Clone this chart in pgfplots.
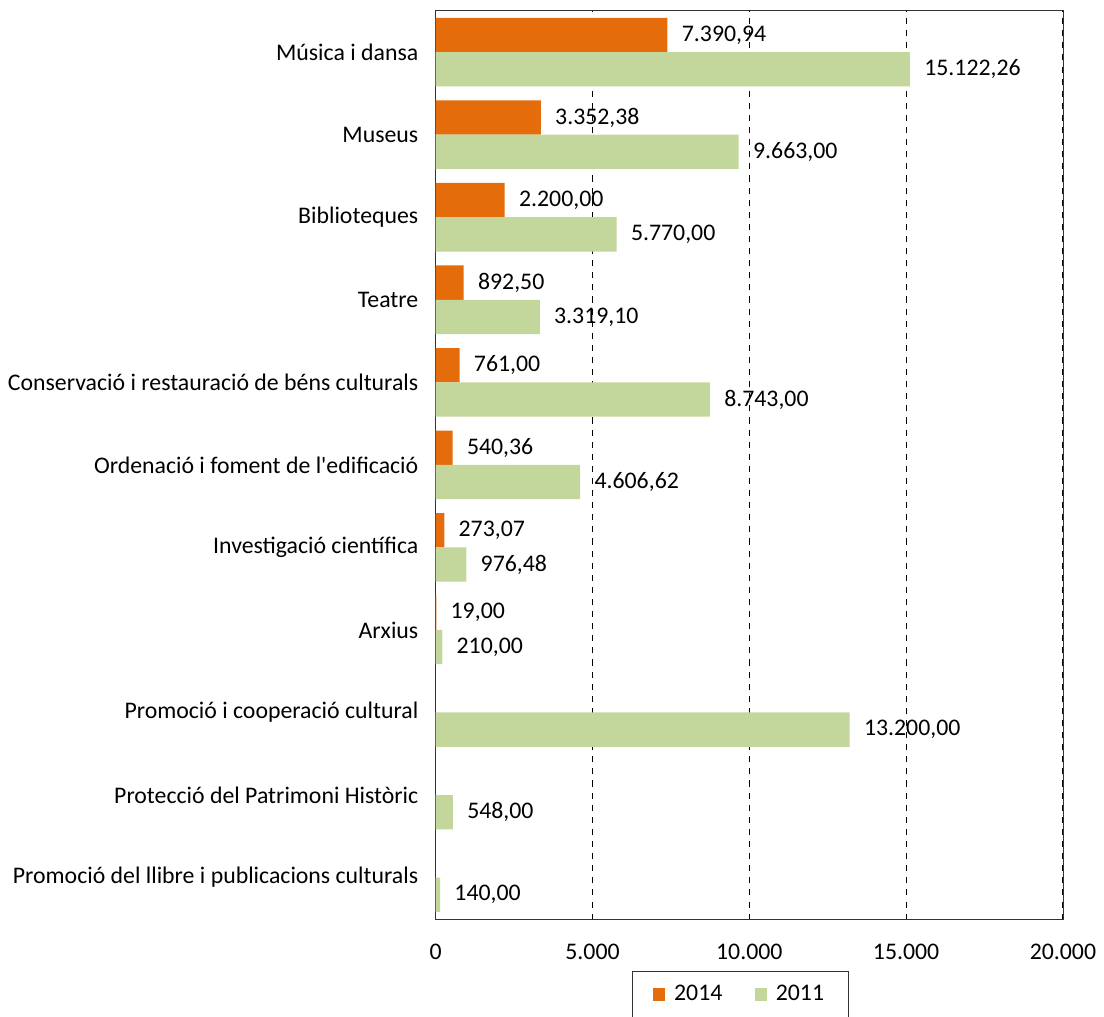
\documentclass[border=0pt]{standalone}
\usepackage{pgfplots}
\pgfplotsset{compat=1.18}
\usepackage{fontspec}
\setmainfont{Carlito}
\definecolor{c14}{HTML}{E46C0A}
\definecolor{c11}{HTML}{C3D69B}
\begin{document}
\fontsize{11.8}{14}\selectfont
\begin{tikzpicture}
\begin{axis}[
  set layers,
  scale only axis,
  width=311pt, height=451pt,
  xbar, bar width=17pt,
  xmin=0, xmax=20000,
  ymin=-0.51, ymax=10.51,
  xtick={0,5000,10000,15000,20000},
  scaled x ticks=false,
  xticklabel style={yshift=-8pt, /pgf/number format/.cd, fixed, precision=0, use comma, 1000 sep={.}, assume math mode=true},
  ytick={0,...,10},
  yticklabels={Promoció del llibre i publicacions culturals,Protecció del Patrimoni Històric,Promoció i cooperació cultural,Arxius,Investigació científica,Ordenació i foment de l\textquotesingle edificació,Conservació i restauració de béns culturals,Teatre,Biblioteques,Museus,Música i dansa},
  major tick length=0pt,
  xmajorgrids, grid style={black, dashed, line width=0.5pt},
  axis line style={black!80},
  yticklabel style={xshift=-4.5pt},
  nodes near coords,
  nodes near coords style={anchor=west, xshift=3pt, /pgf/number format/.cd, fixed, fixed zerofill, precision=2, use comma, 1000 sep={.}, assume math mode=true},
  legend style={at={(axis description cs:0.486,-0.056)}, anchor=north, legend columns=2, draw=black!80, inner xsep=10pt, inner ysep=5pt, /tikz/every odd column/.append style={column sep=2.5pt}, /tikz/every even column/.append style={column sep=14pt}},
  legend image code/.code={\fill[#1] (0pt,-3pt) rectangle (6pt,3.5pt);},
]
\addplot[draw=none, fill=c14, bar shift=8.5pt] coordinates {
 (7390.94,10) (3352.38,9) (2200,8) (892.5,7) (761,6) (540.36,5) (273.07,4) (19,3)
};
\addplot[draw=none, fill=c11, bar shift=-8.5pt] coordinates {
 (15122.26,10) (9663,9) (5770,8) (3319.1,7) (8743,6) (4606.62,5) (976.48,4) (210,3) (13200,2) (548,1) (140,0)
};
\legend{2014,2011}
\end{axis}
\path ([yshift=5pt]current axis.north);
\coordinate (bbnw) at (current bounding box.north west);
\coordinate (bbse) at (current bounding box.south east);
\pgfresetboundingbox
\path (bbnw) rectangle ([yshift=1.2pt]bbse);
\end{tikzpicture}
\end{document}
